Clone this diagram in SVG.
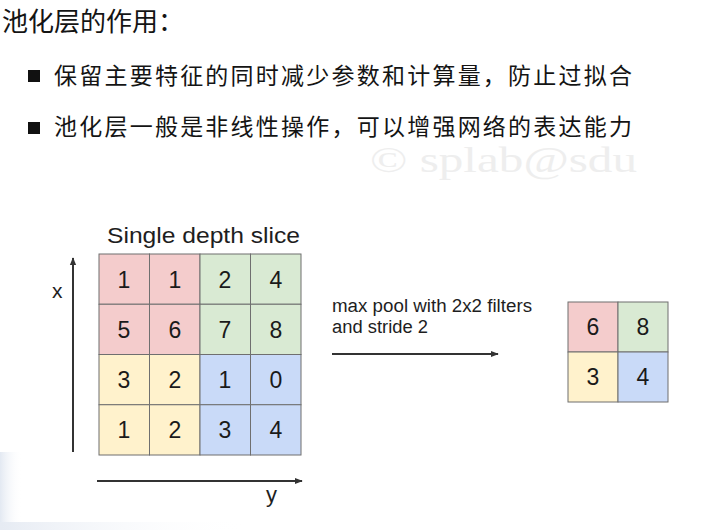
<svg xmlns="http://www.w3.org/2000/svg" width="701" height="530" viewBox="0 0 701 530">
<style>
.cn{font-family:"Noto Sans CJK SC","Noto Sans",sans-serif;fill:#141414}
.lat{font-family:"Liberation Sans",Arial,sans-serif;fill:#1e1e1e}
.num{font-family:"Liberation Sans",Arial,sans-serif;font-size:23px;fill:#1a1a1a;text-anchor:middle}
.cell{stroke:#6f6f6f;stroke-width:1}
.r{fill:#f4cccc}.g{fill:#d9ead3}.yl{fill:#fff2cc}.b{fill:#c9daf8}
.ax{stroke:#333;stroke-width:2;fill:none}
</style>
<defs>
<marker id="ah" viewBox="0 0 10 10" refX="9" refY="5" markerWidth="4" markerHeight="4" orient="auto" markerUnits="strokeWidth">
<path d="M0,1 L10,5 L0,9 z" fill="#333"/>
</marker>
<linearGradient id="lg" x1="0" y1="0" x2="1" y2="0">
<stop offset="0" stop-color="#e3e9f2"/><stop offset="1" stop-color="#ffffff" stop-opacity="0"/>
</linearGradient>
<linearGradient id="bg2" x1="0" y1="0" x2="1" y2="0">
<stop offset="0" stop-color="#e6ebf3"/><stop offset="1" stop-color="#ffffff" stop-opacity="0"/>
</linearGradient>
</defs>
<rect width="701" height="530" fill="#ffffff"/>
<rect x="0" y="452" width="22" height="78" fill="url(#lg)"/>
<rect x="0" y="522" width="250" height="8" fill="url(#bg2)"/>

<text x="370" y="172" font-family="Liberation Serif,serif" font-size="35" fill="#eeeeee" textLength="267" lengthAdjust="spacingAndGlyphs">© splab@sdu</text>

<g id="title">
<text class="cn" x="2" y="31" font-size="26">池化层的作用：</text>
</g>
<g id="bullet1">
<rect x="28" y="70" width="12" height="12" fill="#111"/>
<text class="cn" x="54" y="84" font-size="23" textLength="578" lengthAdjust="spacing">保留主要特征的同时减少参数和计算量，防止过拟合</text>
</g>
<g id="bullet2">
<rect x="28" y="122" width="12" height="12" fill="#111"/>
<text class="cn" x="54" y="135" font-size="23" textLength="578" lengthAdjust="spacing">池化层一般是非线性操作，可以增强网络的表达能力</text>
</g>

<g id="input-slice">
<text class="lat" x="107" y="243" font-size="22" textLength="193" lengthAdjust="spacingAndGlyphs">Single depth slice</text>
<rect class="cell r" x="99" y="254" width="50.5" height="50.25"/>
<rect class="cell r" x="149.5" y="254" width="50.5" height="50.25"/>
<rect class="cell g" x="200" y="254" width="50.5" height="50.25"/>
<rect class="cell g" x="250.5" y="254" width="50.5" height="50.25"/>
<rect class="cell r" x="99" y="304.25" width="50.5" height="50.25"/>
<rect class="cell r" x="149.5" y="304.25" width="50.5" height="50.25"/>
<rect class="cell g" x="200" y="304.25" width="50.5" height="50.25"/>
<rect class="cell g" x="250.5" y="304.25" width="50.5" height="50.25"/>
<rect class="cell yl" x="99" y="354.5" width="50.5" height="50.25"/>
<rect class="cell yl" x="149.5" y="354.5" width="50.5" height="50.25"/>
<rect class="cell b" x="200" y="354.5" width="50.5" height="50.25"/>
<rect class="cell b" x="250.5" y="354.5" width="50.5" height="50.25"/>
<rect class="cell yl" x="99" y="404.75" width="50.5" height="50.25"/>
<rect class="cell yl" x="149.5" y="404.75" width="50.5" height="50.25"/>
<rect class="cell b" x="200" y="404.75" width="50.5" height="50.25"/>
<rect class="cell b" x="250.5" y="404.75" width="50.5" height="50.25"/>
<text class="num" x="124" y="287.5">1</text>
<text class="num" x="175" y="287.5">1</text>
<text class="num" x="225" y="287.5">2</text>
<text class="num" x="276" y="287.5">4</text>
<text class="num" x="124" y="337.5">5</text>
<text class="num" x="175" y="337.5">6</text>
<text class="num" x="225" y="337.5">7</text>
<text class="num" x="276" y="337.5">8</text>
<text class="num" x="124" y="388">3</text>
<text class="num" x="175" y="388">2</text>
<text class="num" x="225" y="388">1</text>
<text class="num" x="276" y="388">0</text>
<text class="num" x="124" y="438">1</text>
<text class="num" x="175" y="438">2</text>
<text class="num" x="225" y="438">3</text>
<text class="num" x="276" y="438">4</text>
</g>

<g id="axis-labels">
<text class="lat" x="52" y="298" font-size="21">x</text>
<text class="lat" x="266" y="502" font-size="22">y</text>
</g>

<g id="pool-label">
<text class="lat" x="332" y="312" font-size="18" textLength="200" lengthAdjust="spacingAndGlyphs">max pool with 2x2 filters</text>
<text class="lat" x="332" y="333" font-size="18" textLength="96" lengthAdjust="spacingAndGlyphs">and stride 2</text>
</g>

<g id="output">
<rect class="cell r" x="568" y="302" width="50" height="50"/>
<rect class="cell g" x="618" y="302" width="50" height="50"/>
<rect class="cell yl" x="568" y="352" width="50" height="50"/>
<rect class="cell b" x="618" y="352" width="50" height="50"/>
<text class="num" x="593" y="335" font-size="24">6</text>
<text class="num" x="643" y="335" font-size="24">8</text>
<text class="num" x="593" y="385" font-size="24">3</text>
<text class="num" x="643" y="385" font-size="24">4</text>
</g>

<g id="connectors">
<line class="ax" x1="73" y1="452" x2="73" y2="258" marker-end="url(#ah)"/>
<line class="ax" x1="97" y1="481" x2="302" y2="481" marker-end="url(#ah)"/>
<line class="ax" x1="332" y1="354" x2="498" y2="354" marker-end="url(#ah)"/>
</g>
</svg>
